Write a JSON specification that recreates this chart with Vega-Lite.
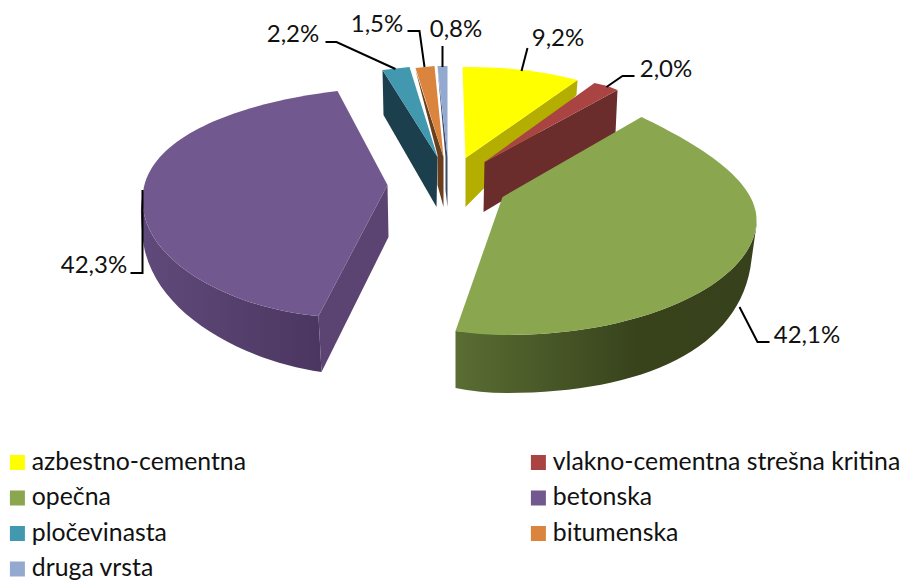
{
"$schema":"https://vega.github.io/schema/vega-lite/v6.json",
"width":903,"height":580,"padding":0,"autosize":{"type":"none"},
"background":"white",
"config":{"view":{"stroke":null},"font":"Lato"},
"data":{"values":[
{"vrsta":"azbestno-cementna","delez":9.2,"oznaka":"9,2%"},
{"vrsta":"vlakno-cementna strešna kritina","delez":2.0,"oznaka":"2,0%"},
{"vrsta":"opečna","delez":42.1,"oznaka":"42,1%"},
{"vrsta":"betonska","delez":42.3,"oznaka":"42,3%"},
{"vrsta":"pločevinasta","delez":2.2,"oznaka":"2,2%"},
{"vrsta":"bitumenska","delez":1.5,"oznaka":"1,5%"},
{"vrsta":"druga vrsta","delez":0.8,"oznaka":"0,8%"}
]},
"resolve":{"scale":{"shape":"independent"}},
"layer":[
{"transform":[{"filter":"datum.delez < 10"}],
 "mark":{"type":"point","filled":true,"size":4,"opacity":1,"strokeWidth":0},
 "encoding":{
  "shape":{"field":"vrsta","type":"nominal","legend":null,"scale":{
   "domain":["azbestno-cementna","vlakno-cementna strešna kritina","pločevinasta","bitumenska","druga vrsta"],
   "range":["M126,-210L125,-195L14,-83L14,-132Z","M166,-200L164,-157L32,-78L33,-128Z","M-69,-220L-68,-175L-15,-83L-14,-133Z","M-36,-220L-14,-135L-14,-105L-8,-83L-8,-133Z","M-14,-222L-6,-133L-6,-100L-4,-83L-4,-133Z"]}},
  "fill":{"field":"vrsta","type":"nominal","legend":null,"scale":{
   "domain":["azbestno-cementna","vlakno-cementna strešna kritina","pločevinasta","bitumenska","druga vrsta"],
   "range":["#b3ae00","#6b2c2c","#1b3f4c","#6b3f1e","#3c4a66"]}}
 }},
{"transform":[{"filter":"datum.vrsta === 'opečna'"}],
 "mark":{"type":"point","filled":true,"size":4,"opacity":1,"strokeWidth":0,
  "shape":"M4,41L4,98Q28,103,55,103C190,103,290,60,300,-30L305,-65L305,-70C305,-10,198,45,55,45Z",
  "fill":{"gradient":"linear","x1":0,"x2":1,"y1":0,"y2":0,"stops":[{"offset":0,"color":"#5a6d33"},{"offset":0.6,"color":"#38431c"},{"offset":1,"color":"#37421c"}]}},
 "encoding":{}},
{"transform":[{"filter":"datum.vrsta === 'betonska'"}],
 "mark":{"type":"point","filled":true,"size":4,"opacity":1,"strokeWidth":0,
  "shape":"M-309,-95C-312,-80,-310,-65,-309,-55C-304,20,-212,70,-130,82L-133,26C-212,20,-309,-25,-309,-90Z",
  "fill":{"gradient":"linear","x1":0,"x2":1,"y1":0,"y2":0,"stops":[{"offset":0,"color":"#604a7b"},{"offset":1,"color":"#4b3660"}]}},
 "encoding":{}},
{"transform":[{"filter":"datum.vrsta === 'betonska'"}],
 "mark":{"type":"point","filled":true,"size":4,"opacity":1,"strokeWidth":0,"fill":"#5b4472",
  "shape":"M-133,26L-130,82L-63,-53L-64,-105Z"},
 "encoding":{}},
{"mark":{"type":"point","filled":true,"size":4,"opacity":1,"strokeWidth":0},
 "encoding":{
  "shape":{"field":"vrsta","type":"nominal","legend":null,"scale":{
   "domain":["azbestno-cementna","vlakno-cementna strešna kritina","opečna","betonska","pločevinasta","bitumenska","druga vrsta"],
   "range":["M11,-223Q73,-224,126,-210L14,-132Z","M143,-207Q155,-205,166,-200L33,-128Z","M190,-173C248,-145,305,-110,305,-70C305,-10,198,45,55,45Q28,45,4,41L51,-93Z","M-114,-199C-192,-190,-309,-160,-309,-90C-309,-25,-212,20,-133,26L-64,-105Z","M-69,-220L-42,-223L-14,-133Z","M-36,-222L-17,-224L-8,-133Z","M-14,-224L-4,-224L-4,-133Z"]}},
  "color":{"field":"vrsta","type":"nominal","sort":null,
   "scale":{"domain":["azbestno-cementna","vlakno-cementna strešna kritina","opečna","betonska","pločevinasta","bitumenska","druga vrsta"],
    "range":["#ffff00","#a94442","#8aa64f","#71588f","#4198af","#db843d","#93a9cf"]},
   "legend":{"title":null,"orient":"none","direction":"horizontal","legendX":5,"legendY":449,"columns":2,"columnPadding":280,"rowPadding":8.5,"symbolType":"square","symbolSize":225,"symbolStrokeWidth":0,"labelFont":"Lato","labelFontSize":24.8,"labelColor":"#111111","labelLimit":500,"labelOffset":2,"padding":0,"clipHeight":27}}
 }},
{"mark":{"type":"point","filled":false,"size":4,"opacity":1,"strokeWidth":2,"stroke":"#000000","fill":null},
 "encoding":{
  "shape":{"field":"vrsta","type":"nominal","legend":null,"scale":{
   "domain":["azbestno-cementna","vlakno-cementna strešna kritina","opečna","betonska","pločevinasta","bitumenska","druga vrsta"],
   "range":["M76,-242L70,-219","M183,-214L171,-214L155,-203","M318,52L306,52L288,17","M-321,-17L-309,-17L-309,-100","M-126,-248L-115,-248L-56,-221","M-44,-259L-32,-259L-27,-223","M-9,-244L-9,-223"]}}
 }},
{"mark":{"type":"text","font":"Lato","fontSize":24,"color":"#111111","align":"center","baseline":"middle"},
 "encoding":{
  "text":{"field":"oznaka","type":"nominal"},
  "x":{"field":"delez","type":"quantitative","axis":null,"scale":{"domain":[0.8,1.5,2.0,2.2,9.2,42.1,42.3],"range":[456,377,666,293,558,807,94]}},
  "y":{"field":"delez","type":"quantitative","axis":null,"scale":{"domain":[0.8,1.5,2.0,2.2,9.2,42.1,42.3],"range":[30,25,70,35,39,336,266]}}
 }}
]}
